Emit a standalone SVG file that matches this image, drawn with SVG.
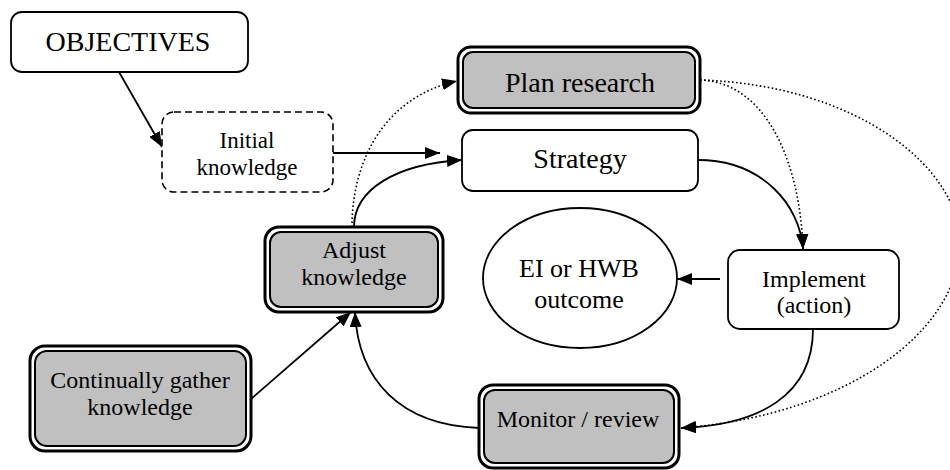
<svg xmlns="http://www.w3.org/2000/svg" width="950" height="470" viewBox="0 0 950 470">
<defs>
<marker id="ah" viewBox="0 0 15 12" refX="15" refY="6" markerWidth="15" markerHeight="12" markerUnits="userSpaceOnUse" orient="auto">
<path d="M0,0 L15,6 L0,12 Z" fill="#000"/>
</marker>
<style>
text{font-family:"Liberation Serif","Times New Roman",serif;fill:#000;text-anchor:middle}
.big{font-size:28px}
.mid{font-size:24px}
.box{fill:#fff;stroke:#000;stroke-width:1.8}
.dash{fill:#fff;stroke:#000;stroke-width:1.6;stroke-dasharray:7,4}
.outer{fill:#fff;stroke:#000;stroke-width:3}
.inner{fill:#c0c0c0;stroke:#000;stroke-width:2}
.ln{fill:none;stroke:#000;stroke-width:1.8;marker-end:url(#ah)}
.dot{fill:none;stroke:#000;stroke-width:1.6;stroke-dasharray:1.6,2.4;marker-end:url(#ah)}
.dotn{fill:none;stroke:#000;stroke-width:1.6;stroke-dasharray:1.6,2.4}
</style>
</defs>
<g id="connectors">
<path class="ln" d="M119,72 L162,147"/>
<path class="ln" d="M333,153 L440,153"/>
<path class="ln" d="M354,227 C354,190 395,164 462,160"/>
<path class="dot" d="M352,227 C352,160 385,97 457,81"/>
<path class="ln" d="M698,160 C762,160 800,205 803,249"/>
<path class="dot" d="M700,80 C765,82 800,160 803,249"/>
<path class="dot" d="M700,80 C860,85 962,170 960,245 C958,330 850,415 681,428"/>
<path class="ln" d="M813,329 C813,395 760,425 681,428"/>
<path class="ln" d="M720,279 L677,279"/>
<path class="ln" d="M479,428 C400,425 358,380 355,312"/>
<path class="ln" d="M251,399 L351,312"/>
</g>
<g id="objectives">
<rect class="box" x="11" y="12" width="237" height="60" rx="11"/>
<text class="big" x="128" y="51">OBJECTIVES</text>
</g>
<g id="initial-knowledge">
<rect class="dash" x="162" y="112" width="171" height="80" rx="12"/>
<text class="mid" x="247" y="148" style="font-size:23px">Initial</text>
<text class="mid" x="247" y="175" style="font-size:23px">knowledge</text>
</g>
<g id="plan-research">
<rect class="outer" x="458" y="47" width="242" height="66" rx="13"/>
<rect class="inner" x="463" y="52" width="232" height="56" rx="10"/>
<text class="big" x="580" y="92">Plan research</text>
</g>
<g id="strategy">
<rect class="box" x="462" y="130" width="236" height="61" rx="11"/>
<text class="big" x="580" y="168">Strategy</text>
</g>
<g id="adjust-knowledge">
<rect class="outer" x="265" y="227" width="178" height="85" rx="14"/>
<rect class="inner" x="270" y="232" width="168" height="75" rx="11"/>
<text class="mid" x="354" y="258">Adjust</text>
<text class="mid" x="354" y="285">knowledge</text>
</g>
<g id="ei-hwb-outcome">
<ellipse class="box" cx="580" cy="278" rx="97" ry="70"/>
<text class="mid" x="579" y="277" style="font-size:26px">EI or HWB</text>
<text class="mid" x="579" y="308" style="font-size:26px">outcome</text>
</g>
<g id="implement">
<rect class="box" x="728" y="250" width="171" height="79" rx="12"/>
<text class="mid" x="814" y="287">Implement</text>
<text class="mid" x="814" y="313">(action)</text>
</g>
<g id="continually-gather">
<rect class="outer" x="30" y="346" width="221" height="105" rx="15"/>
<rect class="inner" x="35" y="351" width="211" height="95" rx="12"/>
<text class="mid" x="140" y="388">Continually gather</text>
<text class="mid" x="140" y="415">knowledge</text>
</g>
<g id="monitor-review">
<rect class="outer" x="479" y="385" width="200" height="83" rx="14"/>
<rect class="inner" x="484" y="390" width="190" height="73" rx="11"/>
<text class="mid" x="578" y="427">Monitor / review</text>
</g>
</svg>
